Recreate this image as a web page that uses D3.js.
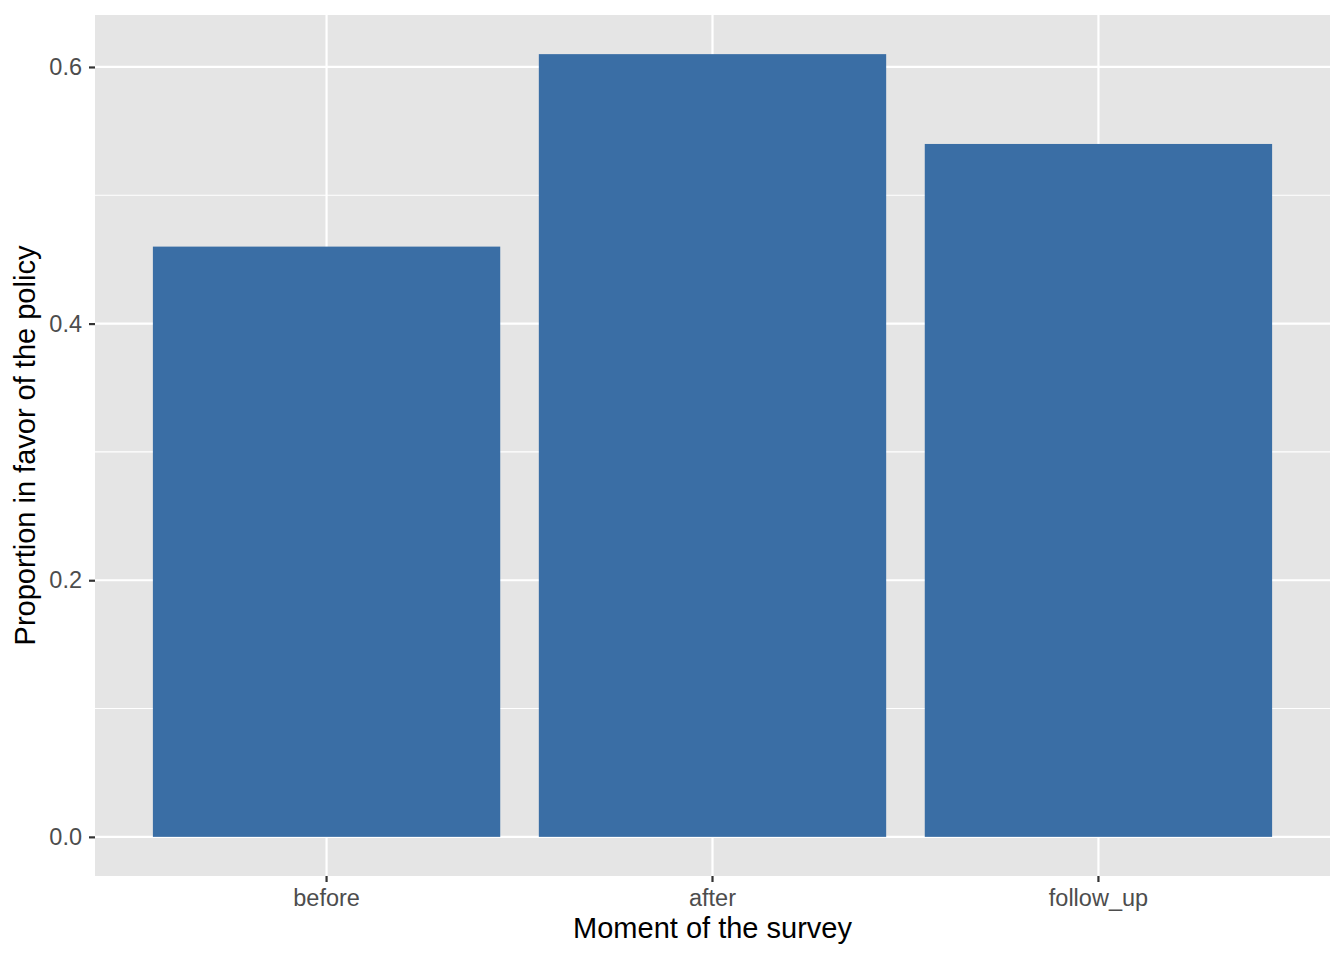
<!DOCTYPE html>
<html>
<head>
<meta charset="utf-8">
<script src="https://cdn.jsdelivr.net/npm/d3@7"></script>
<style>
  body { margin: 0; background: #fff; }
  svg { display: block; font-family: "Liberation Sans", Arial, sans-serif; }
</style>
</head>
<body>
<svg id="chart"></svg>
<script>
// Data
const moments = ["before", "after", "follow_up"];
const proportions = [0.46, 0.61, 0.54];
const yTicks = [0.0, 0.2, 0.4, 0.6];
const yMinor = [0.1, 0.3, 0.5];

const width = 1344;
const height = 960;
const margin = { top: 15, right: 14, bottom: 84, left: 95 };

const svg = d3.select("#chart")
    .attr("width", width)
    .attr("height", height);

const data = moments.map((m, i) => ({ moment: m, value: proportions[i] }));

// ggplot-style expansion
const maxV = d3.max(proportions);
const pad = maxV * 0.05;

const x = d3.scaleBand()
    .domain(moments)
    .range([margin.left, width - margin.right])
    .paddingInner(0.1)
    .paddingOuter(0.15);

const y = d3.scaleLinear()
    .domain([-pad, maxV + pad])
    .range([height - margin.bottom, margin.top]);

// Panel background
svg.append("rect")
    .attr("x", margin.left)
    .attr("y", margin.top)
    .attr("width", width - margin.left - margin.right)
    .attr("height", height - margin.top - margin.bottom)
    .attr("fill", "#e5e5e5");

// Minor grid
svg.append("g").selectAll("line")
    .data(yMinor)
    .join("line")
    .attr("x1", margin.left)
    .attr("x2", width - margin.right)
    .attr("y1", d => y(d))
    .attr("y2", d => y(d))
    .attr("stroke", "#fff")
    .attr("stroke-width", 1.1);

// Major grid
svg.append("g").selectAll("line")
    .data(yTicks)
    .join("line")
    .attr("x1", margin.left)
    .attr("x2", width - margin.right)
    .attr("y1", d => y(d))
    .attr("y2", d => y(d))
    .attr("stroke", "#fff")
    .attr("stroke-width", 2.2);

svg.append("g").selectAll("line")
    .data(moments)
    .join("line")
    .attr("x1", d => x(d) + x.bandwidth() / 2)
    .attr("x2", d => x(d) + x.bandwidth() / 2)
    .attr("y1", margin.top)
    .attr("y2", height - margin.bottom)
    .attr("stroke", "#fff")
    .attr("stroke-width", 2.2);

// Bars
svg.append("g").selectAll("rect")
    .data(data)
    .join("rect")
    .attr("x", d => x(d.moment))
    .attr("y", d => y(d.value))
    .attr("width", x.bandwidth())
    .attr("height", d => y(0) - y(d.value))
    .attr("fill", "#3a6ea5");

// Axes
const xAxis = svg.append("g")
    .attr("transform", `translate(0,${height - margin.bottom})`)
    .call(d3.axisBottom(x).tickSize(6).tickPadding(7));

const yAxis = svg.append("g")
    .attr("transform", `translate(${margin.left},0)`)
    .call(d3.axisLeft(y).tickValues(yTicks).tickFormat(d3.format(".1f")).tickSize(6).tickPadding(7));

[xAxis, yAxis].forEach(g => {
    g.select(".domain").remove();
    g.selectAll(".tick line").attr("stroke", "#333").attr("stroke-width", 2.2);
    g.selectAll(".tick text")
        .attr("fill", "#4d4d4d")
        .style("font-size", "23.5px")
        .style("font-family", "'Liberation Sans', Arial, sans-serif");
});

// Axis titles
svg.append("text")
    .attr("x", (margin.left + width - margin.right) / 2)
    .attr("y", 938)
    .attr("text-anchor", "middle")
    .attr("fill", "#000")
    .style("font-size", "29px")
    .text("Moment of the survey");

svg.append("text")
    .attr("transform", `translate(35,${(margin.top + height - margin.bottom) / 2}) rotate(-90)`)
    .attr("text-anchor", "middle")
    .attr("fill", "#000")
    .style("font-size", "29px")
    .text("Proportion in favor of the policy");
</script>
</body>
</html>
